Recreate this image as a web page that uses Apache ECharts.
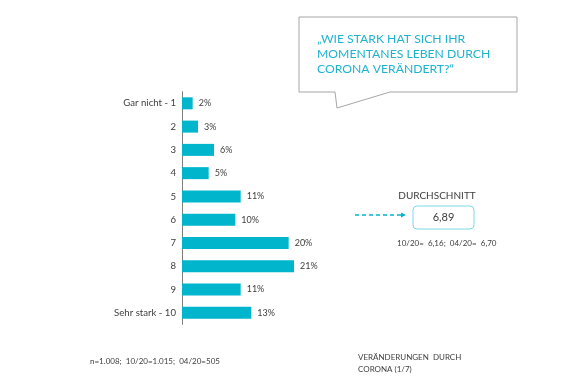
<!DOCTYPE html>
<html><head><meta charset="utf-8">
<script src="https://cdn.jsdelivr.net/npm/echarts@6/dist/echarts.min.js"></script>
<style>html,body{margin:0;padding:0;background:#fff}#c{width:580px;height:380px}</style>
</head><body><div id="c"></div>
<script>
var categories = ['Gar nicht - 1','2','3','4','5','6','7','8','9','Sehr stark - 10'];
var values = [2,3,6,5,11,10,20,21,11,13];
var questionLines = ['„WIE STARK HAT SICH IHR','MOMENTANES LEBEN DURCH','CORONA VERÄNDERT?“'];
var averageTitle = 'DURCHSCHNITT';
var averageValue = '6,89';
var averageHistory = '10/20=  6,16;  04/20=  6,70';
var footnote = 'n=1.008;  10/20=1.015;  04/20=505';
var sectionLines = ['VERÄNDERUNGEN  DURCH','CORONA (1/7)'];

var teal = '#00B5CC';
var font = 'Lato, "Open Sans", sans-serif';
var chart = echarts.init(document.getElementById('c'));
chart.setOption({
  animation:false,
  grid:{left:182,top:91.7,width:320,height:232.7},
  xAxis:{type:'value',min:0,max:60,show:false},
  yAxis:{type:'category',data:categories,inverse:true,
    axisLine:{lineStyle:{color:'#7f7f7f',width:1}},axisTick:{show:false},
    axisLabel:{color:'#404040',fontSize:9.6,fontFamily:font,margin:6}},
  series:[{type:'bar',data:values,barWidth:12,
    itemStyle:{color:teal},
    label:{show:true,position:'right',distance:6,formatter:'{c}%',color:'#404040',fontSize:9,fontFamily:font}}],
  graphic:[
    {type:'polygon',shape:{points:[[299,17],[517,17],[517,92],[390,92],[337,108],[335,92],[299,92]]},
      style:{fill:'#fff',stroke:'#a6a6a6',lineWidth:1}},
    {type:'text',left:317,top:32,style:{text:questionLines.join('\n'),fill:'#1EB4CF',font:'12.2px '+font,lineHeight:15}},
    {type:'text',x:437,y:196,style:{text:averageTitle,fill:'#404040',font:'10px '+font,align:'center',verticalAlign:'middle'}},
    {type:'rect',shape:{x:413,y:206,width:61,height:23,r:4},style:{fill:'#fff',stroke:'#7fd9e6',lineWidth:1}},
    {type:'text',x:443.5,y:217.5,style:{text:averageValue,fill:'#404040',font:'11px '+font,align:'center',verticalAlign:'middle'}},
    {type:'line',shape:{x1:355,y1:215,x2:402,y2:215},style:{stroke:teal,lineWidth:1.5,lineDash:[4,3]}},
    {type:'polygon',shape:{points:[[401,212.5],[406,215],[401,217.5]]},style:{fill:teal}},
    {type:'text',x:397,y:243,style:{text:averageHistory,fill:'#404040',font:'8px '+font,verticalAlign:'middle'}},
    {type:'text',x:90,y:361,style:{text:footnote,fill:'#404040',font:'8px '+font,verticalAlign:'middle'}},
    {type:'text',x:358,y:351,style:{text:sectionLines.join('\n'),fill:'#404040',font:'8px '+font,lineHeight:12}}
  ]
});
</script></body></html>
